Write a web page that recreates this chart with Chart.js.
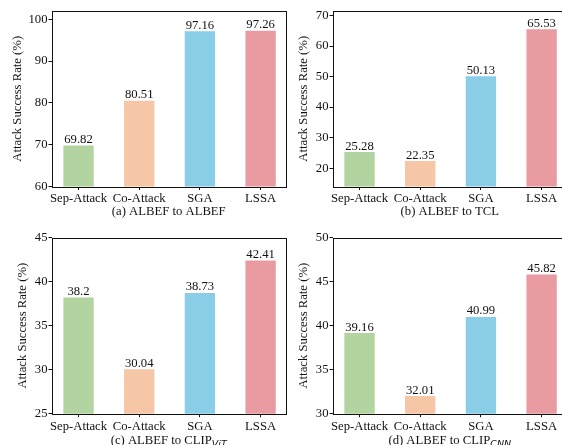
<!DOCTYPE html>
<html>
<head>
<meta charset="utf-8">
<script src="https://cdn.jsdelivr.net/npm/chart.js@4/dist/chart.umd.min.js"></script>
<style>
  html, body { margin: 0; padding: 0; background: #fff; width: 562px; height: 445px; overflow: hidden; position: relative; }
  canvas { position: absolute; }
</style>
</head>
<body>
<canvas id="pa"></canvas>
<canvas id="pb"></canvas>
<canvas id="pc"></canvas>
<canvas id="pd"></canvas>
<script>
// Attack methods compared in every panel
const methods = ['Sep-Attack', 'Co-Attack', 'SGA', 'LSSA'];

// Attack success rate (%) per target model, source model ALBEF
const albefToAlbef   = [69.82, 80.51, 97.16, 97.26];
const albefToTcl     = [25.28, 22.35, 50.13, 65.53];
const albefToClipVit = [38.2, 30.04, 38.73, 42.41];
const albefToClipCnn = [39.16, 32.01, 40.99, 45.82];

// y-axis tick labels for each panel
const ticksAlbef   = [60, 70, 80, 90, 100];
const ticksTcl     = [20, 30, 40, 50, 60, 70];
const ticksClipVit = [25, 30, 35, 40, 45];
const ticksClipCnn = [30, 35, 40, 45, 50];

const barColors = ['#b2d4a1', '#f5c7a6', '#89cee6', '#e89ca1'];
const FONT = '"Liberation Serif", "Times New Roman", serif';
const SUB_FONT = 'italic 9.5px "DejaVu Sans", sans-serif';
const FS = 12.7;

const decor = {
  id: 'decor',
  afterDatasetsDraw(chart, args, opts) {
    const { ctx, chartArea: a } = chart;
    ctx.save();
    // frame
    ctx.strokeStyle = '#111';
    ctx.lineWidth = 1;
    ctx.strokeRect(Math.round(a.left) + 0.5, Math.round(a.top) + 0.5,
                   Math.round(a.right) - Math.round(a.left), Math.round(a.bottom) - Math.round(a.top));
    // value labels above bars
    const meta = chart.getDatasetMeta(0);
    const vals = chart.data.datasets[0].data;
    ctx.fillStyle = '#111';
    ctx.font = FS + 'px ' + FONT;
    ctx.textAlign = 'left';
    ctx.textBaseline = 'alphabetic';
    meta.data.forEach((bar, i) => {
      const s = String(vals[i].y);
      const w = ctx.measureText(s).width;
      ctx.fillText(s, bar.x - w / 2, bar.y - 2.5);
    });
    // panel caption, with optional subscript
    const parts = opts.caption;
    ctx.textBaseline = 'middle';
    let total = 0;
    const fonts = parts.map(p => p.sub ? SUB_FONT : FS + 'px ' + FONT);
    parts.forEach((p, i) => { ctx.font = fonts[i]; total += ctx.measureText(p.text).width; });
    let x = (a.left + a.right) / 2 - total / 2;
    parts.forEach((p, i) => {
      ctx.font = fonts[i];
      ctx.fillText(p.text, x, opts.captionY + (p.sub ? 4 : 0));
      x += ctx.measureText(p.text).width;
    });
    ctx.restore();
  }
};

function panel(id, box, values, yTicks, yMin, yMax, titlePad, caption, captionY) {
  const cv = document.getElementById(id);
  cv.width = box.w; cv.height = box.h;
  cv.style.left = box.x + 'px'; cv.style.top = box.y + 'px';
  cv.style.width = box.w + 'px'; cv.style.height = box.h + 'px';
  return new Chart(cv, {
    type: 'bar',
    data: {
      datasets: [{
        data: values.map((v, i) => ({ x: i, y: v })),
        backgroundColor: barColors,
        borderWidth: 0,
        barPercentage: 0.5,
        categoryPercentage: 1
      }]
    },
    options: {
      responsive: false,
      devicePixelRatio: 1,
      animation: false,
      layout: { padding: { left: 0, top: box.T, right: box.w - box.R, bottom: 0 } },
      plugins: {
        legend: { display: false },
        tooltip: { enabled: false },
        decor: { caption: caption, captionY: captionY }
      },
      scales: {
        x: {
          type: 'linear',
          min: -0.437, max: 3.41,
          offset: false,
          grid: { offset: false, drawOnChartArea: false, drawTicks: true, tickLength: 3.5, color: '#111' },
          border: { display: false },
          afterBuildTicks: s => { s.ticks = methods.map((m, i) => ({ value: i })); },
          afterFit: s => { s.height = box.h - box.B; },
          ticks: {
            autoSkip: false, maxRotation: 0, padding: 1.5, color: '#111',
            font: { family: FONT, size: FS },
            callback: v => methods[v]
          }
        },
        y: {
          type: 'linear',
          min: yMin, max: yMax,
          grid: { drawOnChartArea: false, drawTicks: true, tickLength: 3.5, color: '#111' },
          border: { display: false },
          afterBuildTicks: s => { s.ticks = yTicks.map(v => ({ value: v })); },
          afterFit: s => { s.width = box.L; },
          ticks: { padding: 1, color: '#111', font: { family: FONT, size: FS } },
          title: {
            display: true, text: 'Attack Success Rate (%)', color: '#111',
            font: { family: FONT, size: FS }, padding: { top: titlePad, bottom: 0 }
          }
        }
      }
    },
    plugins: [decor]
  });
}

panel('pa', { x: 0, y: 0, w: 290, h: 222, L: 52, T: 11, R: 285.5, B: 186.5 },
      albefToAlbef, ticksAlbef, 60, 102, 10.4,
      [{ text: '(a) ALBEF to ALBEF' }], 211.7);
panel('pb', { x: 290, y: 0, w: 290, h: 222, L: 43, T: 11, R: 276.5, B: 186.5 },
      albefToTcl, ticksTcl, 14, 71.5, 6.4,
      [{ text: '(b) ALBEF to TCL' }], 211.7);
panel('pc', { x: 0, y: 222, w: 290, h: 223, L: 52, T: 15.7, R: 285.5, B: 191.7 },
      albefToClipVit, ticksClipVit, 25, 45, 15.4,
      [{ text: '(c) ALBEF to CLIP' }, { text: 'ViT', sub: true }], 218.3);
panel('pd', { x: 290, y: 222, w: 290, h: 223, L: 43, T: 15.7, R: 276.5, B: 191.7 },
      albefToClipCnn, ticksClipCnn, 30, 50, 6.4,
      [{ text: '(d) ALBEF to CLIP' }, { text: 'CNN', sub: true }], 218.3);
</script>
</body>
</html>
